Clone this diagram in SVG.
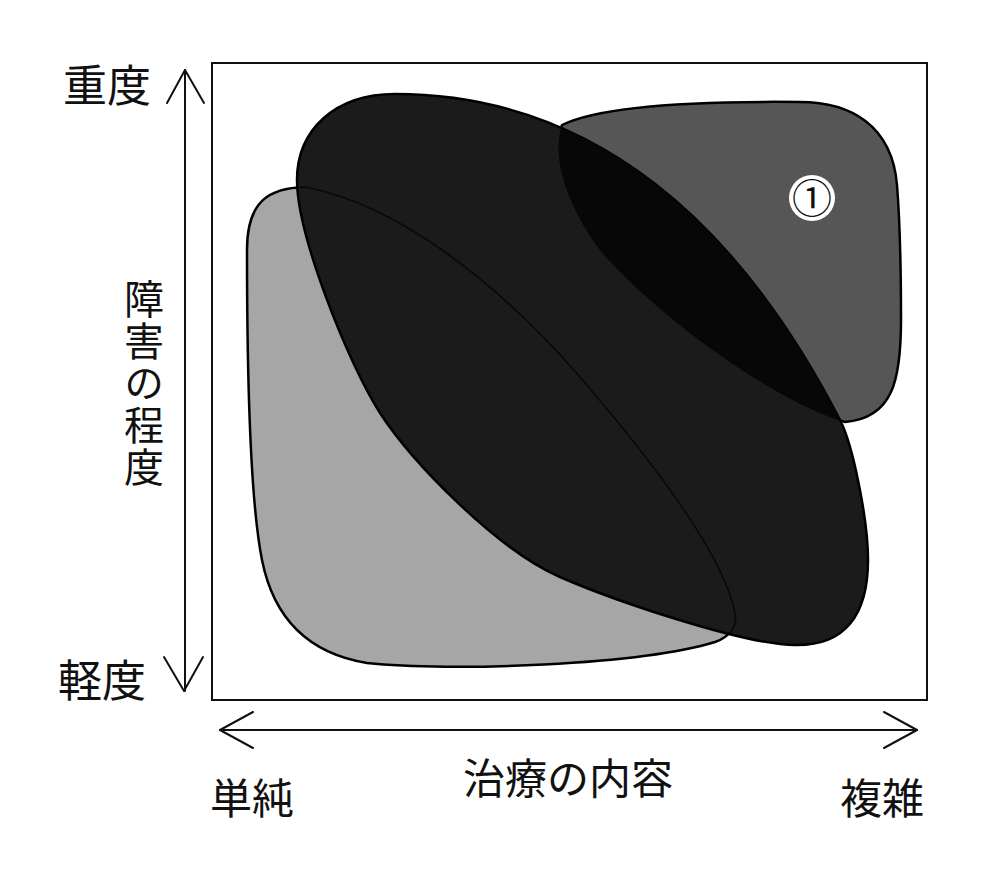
<svg xmlns="http://www.w3.org/2000/svg" width="1000" height="873" viewBox="0 0 1000 873">
  <style>
    .lbl { font-family: "Noto Sans CJK JP", "Noto Sans CJK SC", sans-serif; font-size: 42px; fill: #111; }
    .big { font-size: 44px; }
    .vert { font-size: 40px; writing-mode: vertical-rl; letter-spacing: 2px; }
    .num { font-size: 40px; }
    .axis { stroke: #111; stroke-width: 2; fill: none; stroke-linecap: round; stroke-linejoin: round; }
    .edge { stroke: #000; stroke-width: 2.5; stroke-linejoin: round; }
  </style>
  <defs>
    <path id="grayShape" d="M 305,187 C 270,188 247,200 247,250 C 247,380 250,500 262,560 C 272,610 300,652 367,663 C 450,672 640,665 715,642 C 730,637 738,625 735,613 C 725,560 660,470 580,377 C 500,285 400,205 305,187 Z"/>
    <path id="blackShape" d="M 297,180 C 297,130 335,94 395,94 C 595,94 739,224 840,420 C 853,445 868,520 868,560 C 868,615 845,646 795,645 C 745,645 615,601 560,577 C 496,549 412,462 380,413 C 348,363 297,235 297,180 Z"/>
    <path id="oneShape" d="M 562,125 C 600,106 700,101 800,102 C 850,102 892,125 897,185 C 899,210 901,270 901,320 C 901,380 893,418 845,422 C 770,400 650,310 600,250 C 570,210 550,160 562,125 Z"/>
    <clipPath id="clipBlack">
      <use href="#blackShape"/>
    </clipPath>
  </defs>
  <rect width="1000" height="873" fill="#ffffff"/>

  <g id="frame">
    <rect x="212" y="63" width="715" height="637" fill="none" stroke="#111" stroke-width="2"/>
  </g>

  <g id="node-light">
    <use href="#grayShape" fill="#a6a6a6" class="edge"/>
  </g>
  <g id="node-1">
    <use href="#oneShape" fill="#565656" class="edge"/>
  </g>
  <g id="node-dark">
    <use href="#blackShape" fill="#1b1b1b" class="edge"/>
    <g clip-path="url(#clipBlack)">
      <use href="#oneShape" fill="#070707"/>
      <use href="#grayShape" fill="none" stroke="#000" stroke-width="1.6" stroke-opacity="0.7"/>
    </g>
  </g>
  <g id="label-1">
    <circle cx="812" cy="198" r="23" fill="#ffffff"/>
    <text x="812" y="196" class="lbl num" text-anchor="middle" dominant-baseline="central">①</text>
  </g>

  <g id="connectors">
    <g id="axis-vertical">
      <line x1="185" y1="70" x2="185" y2="691" class="axis"/>
      <polyline points="167,103 185,70 204,103" class="axis"/>
      <polyline points="164,657 184,691 203,657" class="axis"/>
    </g>
    <g id="axis-horizontal">
      <line x1="220" y1="730" x2="917" y2="730" class="axis"/>
      <polyline points="253,712 220,730 253,748" class="axis"/>
      <polyline points="884,712 917,730 884,748" class="axis"/>
    </g>
  </g>

  <g id="labels">
    <text x="107" y="83" class="lbl big" text-anchor="middle" dominant-baseline="central">重度</text>
    <text x="102" y="678" class="lbl big" text-anchor="middle" dominant-baseline="central">軽度</text>
    <text x="144" y="279" class="lbl vert">障害の程度</text>
    <text x="252" y="795" class="lbl" text-anchor="middle" dominant-baseline="central">単純</text>
    <text x="568" y="775" class="lbl" text-anchor="middle" dominant-baseline="central">治療の内容</text>
    <text x="882" y="795" class="lbl" text-anchor="middle" dominant-baseline="central">複雑</text>
  </g>
</svg>
